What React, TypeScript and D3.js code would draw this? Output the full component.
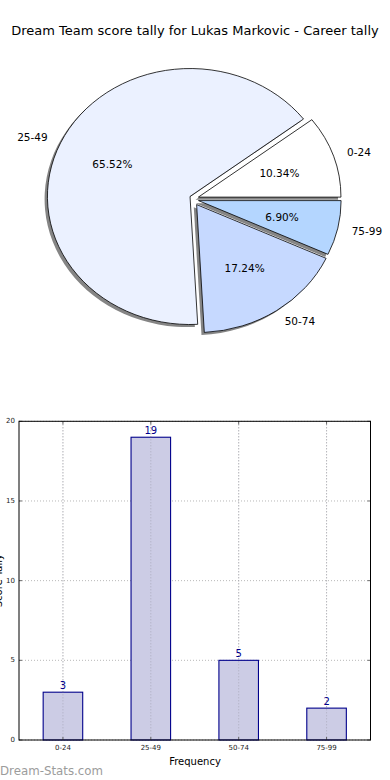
import React from 'react';
import * as d3 from 'd3';

const title = "Dream Team score tally for Lukas Markovic - Career tally";
const categories = ["0-24", "25-49", "50-74", "75-99"];
const counts = [3, 19, 5, 2];
const yTicks = [0, 5, 10, 15, 20];
const sliceColors = ["#FFFFFF", "#EBF1FF", "#C6D9FF", "#B4D6FF"];

const FONT = "'DejaVu Sans', Verdana, sans-serif";

export default function App() {
  const W = 390, H = 780;
  // ---- pie ----
  const total = d3.sum(counts);
  const pieGen = d3.pie<number>().sort(null).startAngle(Math.PI / 2).endAngle(Math.PI / 2 - 2 * Math.PI);
  const arcs = pieGen(counts);
  const arcGen = d3.arc<any>().innerRadius(0).outerRadius(1);
  const cx = 194.1, cy = 199.2, rx = 142.6, ry = 128;
  const exX = 4.5, exY = 6.5;
  const shDx = -2.85, shDy = 2.56;
  const slices = arcs.map((a, i) => {
    const mid = (a.startAngle + a.endAngle) / 2;
    const ux = Math.sin(mid), uy = -Math.cos(mid);
    const tx = cx + exX * ux, ty = cy + exY * uy;
    return {
      i,
      path: arcGen({ startAngle: a.startAngle, endAngle: a.endAngle }) as string,
      tx, ty, ux, uy,
      lx: tx + 1.1 * rx * ux, ly: ty + 1.1 * ry * uy,
      px: tx + 0.6 * rx * ux, py: ty + 0.6 * ry * uy,
      pct: ((counts[i] / total) * 100).toFixed(2) + "%",
    };
  });

  // ---- bars ----
  const left = 19, right = 370.5, top = 421.3, bottom = 740;
  const x = d3.scalePoint<string>().domain(categories).range([left, right]).padding(0.5);
  const y = d3.scaleLinear().domain([0, 20]).range([bottom, top]);
  const bw = x.step() * 0.45;

  return (
    <svg width={W} height={H} style={{ position: 'absolute', left: 0, top: 0, background: '#fff' }} fontFamily={FONT}>
      <text x={195} y={30} textAnchor="middle" dominantBaseline="central" fontSize={13} fill="#000">{title}</text>

      {/* shadows */}
      {slices.map(s => (
        <path key={'sh' + s.i} d={s.path} transform={`translate(${s.tx + shDx},${s.ty + shDy}) scale(${rx},${ry})`}
          fill="#858585" stroke="none" />
      ))}
      {slices.map(s => (
        <path key={'w' + s.i} d={s.path} transform={`translate(${s.tx},${s.ty}) scale(${rx},${ry})`}
          fill={sliceColors[s.i]} stroke="#000" strokeWidth={0.8} vectorEffect="non-scaling-stroke" />
      ))}
      {slices.map(s => (
        <text key={'l' + s.i} x={s.lx} y={s.ly} textAnchor={s.ux > 0 ? 'start' : 'end'} dominantBaseline="central" fontSize={10.5} fill="#000">{categories[s.i]}</text>
      ))}
      {slices.map(s => (
        <text key={'p' + s.i} x={s.px} y={s.py} textAnchor="middle" dominantBaseline="central" fontSize={10.5} fill="#000">{s.pct}</text>
      ))}

      {/* bar chart grid */}
      {yTicks.map(t => (
        <line key={'gy' + t} x1={left} x2={right} y1={y(t)} y2={y(t)} stroke="#b8b8b8" strokeWidth={1} strokeDasharray="1,2" />
      ))}
      {categories.map(c => (
        <line key={'gx' + c} x1={x(c)} x2={x(c)} y1={top} y2={bottom} stroke="#b8b8b8" strokeWidth={1} strokeDasharray="1,2" />
      ))}
      {/* bars */}
      {categories.map((c, i) => (
        <rect key={'b' + c} x={(x(c) as number) - bw / 2} y={y(counts[i])} width={bw} height={bottom - y(counts[i])}
          fill="#CCCCE5" stroke="#00008B" strokeWidth={1.1} />
      ))}
      {categories.map(c => (
        <line key={'gx2' + c} x1={x(c)} x2={x(c)} y1={top} y2={bottom} stroke="#9a9aa8" strokeWidth={1} strokeDasharray="1,2" opacity={0.6} />
      ))}
      {categories.map((c, i) => (
        <text key={'v' + c} x={x(c)} y={y(counts[i]) - 3.5} textAnchor="middle" fontSize={10} fill="#00008B">{counts[i]}</text>
      ))}
      {/* ticks */}
      {yTicks.map(t => (
        <g key={'ty' + t}>
          <line x1={left} x2={left + 3} y1={y(t)} y2={y(t)} stroke="#444" strokeWidth={0.8} />
          <line x1={right} x2={right - 3} y1={y(t)} y2={y(t)} stroke="#444" strokeWidth={0.8} />
          <text x={left - 4} y={y(t)} textAnchor="end" dominantBaseline="central" fontSize={7} fill="#222">{t}</text>
        </g>
      ))}
      {categories.map(c => (
        <g key={'tx' + c}>
          <line x1={x(c)} x2={x(c)} y1={bottom} y2={bottom - 3} stroke="#444" strokeWidth={0.8} />
          <line x1={x(c)} x2={x(c)} y1={top} y2={top + 3} stroke="#444" strokeWidth={0.8} />
          <text x={x(c)} y={bottom + 8} textAnchor="middle" dominantBaseline="central" fontSize={7} fill="#222">{c}</text>
        </g>
      ))}
      <rect x={left} y={top} width={right - left} height={bottom - top} fill="none" stroke="#000" strokeWidth={1} />
      <text x={195} y={761} textAnchor="middle" dominantBaseline="central" fontSize={10} fill="#000">Frequency</text>
      <text transform={`translate(2,${(top + bottom) / 2}) rotate(-90)`} textAnchor="middle" fontSize={10} fill="#000">Score Tally</text>
      <text x={0} y={771} dominantBaseline="central" fontSize={11.8} fill="#9c9c9c">Dream-Stats.com</text>
    </svg>
  );
}
